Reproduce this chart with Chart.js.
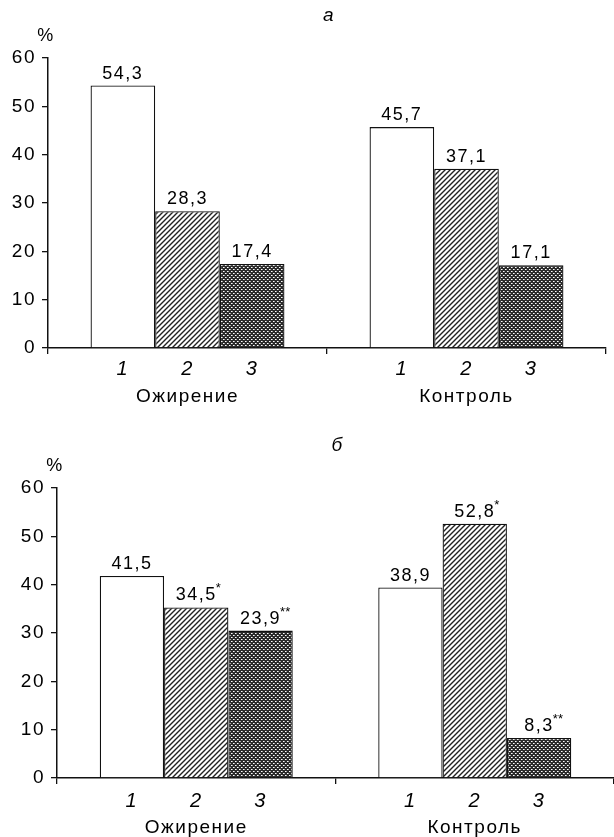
<!DOCTYPE html>
<html>
<head>
<meta charset="utf-8">
<script src="https://cdn.jsdelivr.net/npm/chart.js@4"></script>
<style>
  body { margin: 0; background: #fff; }
  canvas { position: absolute; left: 0; }
  #chartA { top: 0; }
  #chartB { top: 430px; }
</style>
</head>
<body>
<canvas id="chartA" width="614" height="407"></canvas>
<canvas id="chartB" width="614" height="407"></canvas>
<script>
// categories and bar numbers
const groups = ['Ожирение', 'Контроль'];
const barNumbers = ['1', '2', '3'];
const yMin = 0, yMax = 60, yStep = 10;

// chart "а"
const a1 = [54.3, 45.7];
const a2 = [28.3, 37.1];
const a3 = [17.4, 17.1];
const aText1 = ['54,3', '45,7'];
const aText2 = ['28,3', '37,1'];
const aText3 = ['17,4', '17,1'];

// chart "б" (bar 3 of Ожирение is drawn at ~30 in the original, label says 23,9)
const b1 = [41.8, 39.4];
const b2 = [35.3, 52.6];
const b3 = [30.5, 8.3];
const bText1 = ['41,5', '38,9'];
const bText2 = ['34,5', '52,8'];
const bText3 = ['23,9', '8,3'];
const bStars1 = ['', ''];
const bStars2 = ['*', '*'];
const bStars3 = ['**', '**'];

const FONT = '"Liberation Sans", Arial, Helvetica, sans-serif';
Chart.defaults.font.family = FONT;
Chart.defaults.font.size = 19;
Chart.defaults.color = '#000';

function hatchPattern() {
    const c = document.createElement('canvas');
    c.width = c.height = 5;
    const g = c.getContext('2d');
    g.fillStyle = '#fff';
    g.fillRect(0, 0, 5, 5);
    g.strokeStyle = '#222';
    g.lineWidth = 1.4;
    g.beginPath();
    g.moveTo(-1, 6); g.lineTo(6, -1);
    g.moveTo(-1, 1); g.lineTo(1, -1);
    g.moveTo(4, 6); g.lineTo(6, 4);
    g.stroke();
    return g.createPattern(c, 'repeat');
}

function crossPattern() {
    const c = document.createElement('canvas');
    c.width = c.height = 4;
    const g = c.getContext('2d');
    g.fillStyle = '#2b2b2b';
    g.fillRect(0, 0, 4, 4);
    g.fillStyle = '#fff';
    g.fillRect(1, 1, 1, 1);
    g.fillRect(3, 3, 1, 1);
    g.fillStyle = '#aaa';
    g.fillRect(2, 1, 1, 1);
    g.fillRect(0, 3, 1, 1);
    return g.createPattern(c, 'repeat');
}

// draws the panel letter, "%", values above bars and bar numbers below
const annot = {
    id: 'annot',
    beforeDraw(chart) {
        chart.ctx.letterSpacing = '1.5px';
    },
    afterDraw(chart, args, opts) {
        const { ctx, chartArea, scales } = chart;
        ctx.save();
        ctx.fillStyle = '#000';
        ctx.textAlign = 'center';
        ctx.textBaseline = 'middle';
        ctx.font = 'italic 19px ' + FONT;
        ctx.fillText(opts.letter, (chartArea.left + chartArea.right) / 2 + 2, 16);
        ctx.font = '18px ' + FONT;
        ctx.fillText('%', scales.y.right - 2, 36);

        chart.data.datasets.forEach((ds, i) => {
            chart.getDatasetMeta(i).data.forEach((bar, j) => {
                const t = opts.texts[i][j];
                ctx.font = '18px ' + FONT;
                ctx.textAlign = 'center';
                ctx.textBaseline = 'alphabetic';
                ctx.fillText(t, bar.x, bar.y - 7);
                const s = opts.stars ? opts.stars[i][j] : '';
                if (s) {
                    const w = ctx.measureText(t).width;
                    ctx.font = '13px ' + FONT;
                    ctx.textAlign = 'left';
                    ctx.letterSpacing = '0px';
                    ctx.fillText(s, bar.x + w / 2 - 1, bar.y - 15);
                    ctx.letterSpacing = '1.5px';
                }
                ctx.font = 'italic 20px ' + FONT;
                ctx.textAlign = 'center';
                ctx.textBaseline = 'middle';
                ctx.fillText(ds.label, bar.x, chartArea.bottom + opts.numOffset);
            });
        });
        ctx.restore();
    }
};

function makeChart(id, series, texts, stars, letter, axisX, padRight, catPct, numOffset, labelPad) {
    const fills = ['#fff', hatchPattern(), crossPattern()];
    return new Chart(document.getElementById(id), {
        type: 'bar',
        data: {
            labels: groups,
            datasets: series.map((s, i) => ({
                label: barNumbers[i],
                data: s,
                backgroundColor: fills[i],
                borderColor: '#111',
                borderWidth: 1.3,
                borderSkipped: 'bottom',
                barPercentage: 1.0,
                categoryPercentage: catPct,
            })),
        },
        options: {
            responsive: false,
            devicePixelRatio: 1,
            animation: false,
            layout: { padding: { top: 58, left: 0, right: padRight, bottom: 0 } },
            plugins: {
                legend: { display: false },
                tooltip: { enabled: false },
                annot: { letter: letter, texts: texts, stars: stars, numOffset: numOffset },
            },
            scales: {
                x: {
                    afterFit(scale) { scale.height = 59; },
                    border: { color: '#111', width: 1.5 },
                    grid: { offset: true, drawOnChartArea: false, tickLength: 6, color: '#111', lineWidth: 1.3 },
                    ticks: { padding: labelPad, color: '#000', font: { size: 19 } },
                },
                y: {
                    min: yMin,
                    max: yMax,
                    afterFit(scale) { scale.width = axisX; },
                    border: { color: '#111', width: 1.5 },
                    grid: { drawOnChartArea: false, tickLength: 6, color: '#111', lineWidth: 1.3 },
                    ticks: { stepSize: yStep, padding: 6, color: '#000', font: { size: 19 } },
                },
            },
        },
        plugins: [annot],
    });
}

makeChart('chartA', [a1, a2, a3], [aText1, aText2, aText3], null, 'а', 48, 8, 0.695, 21, 31);
makeChart('chartB', [b1, b2, b3], [bText1, bText2, bText3], [bStars1, bStars2, bStars3], 'б', 57, 0, 0.693, 23, 32);
</script>
</body>
</html>
